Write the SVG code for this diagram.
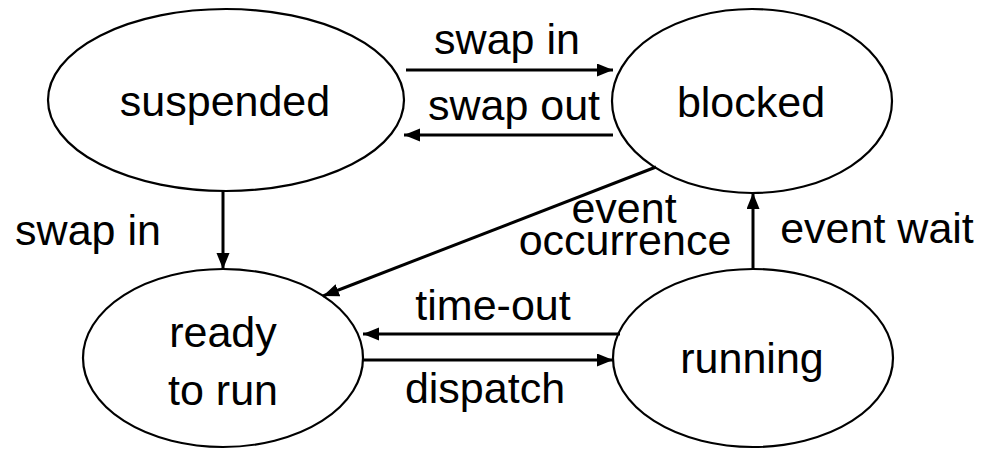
<svg xmlns="http://www.w3.org/2000/svg" width="988" height="449" viewBox="0 0 988 449">
<style>
.node{fill:#fff;stroke:#000;stroke-width:2.2}
text{font-family:"Liberation Sans",Arial,sans-serif;font-size:43px;fill:#000;text-anchor:middle}
.edge{stroke:#000;stroke-width:3;fill:none}
</style>
<defs>
<marker id="ah" markerUnits="userSpaceOnUse" markerWidth="17" markerHeight="14" refX="16" refY="6.5" orient="auto">
<path d="M0,0 L16,6.5 L0,13 z" fill="#000"/>
</marker>
</defs>
<rect width="988" height="449" fill="#fff"/>
<g id="suspended"><ellipse class="node" cx="226" cy="100" rx="178" ry="91"/><text x="225" y="116">suspended</text></g>
<g id="blocked"><ellipse class="node" cx="752" cy="101" rx="140" ry="92"/><text x="751" y="117">blocked</text></g>
<g id="ready"><ellipse class="node" cx="223" cy="358" rx="140" ry="89"/><text x="223" y="347">ready</text><text x="223" y="405">to run</text></g>
<g id="running"><ellipse class="node" cx="753" cy="358" rx="140" ry="89"/><text x="752" y="373">running</text></g>
<g id="connectors">
<line class="edge" x1="406" y1="70" x2="613" y2="70" marker-end="url(#ah)"/>
<line class="edge" x1="613" y1="135" x2="404" y2="135" marker-end="url(#ah)"/>
<line class="edge" x1="223" y1="191" x2="223" y2="269" marker-end="url(#ah)"/>
<line class="edge" x1="656" y1="167" x2="323" y2="296" marker-end="url(#ah)"/>
<line class="edge" x1="753" y1="269" x2="753" y2="193" marker-end="url(#ah)"/>
<line class="edge" x1="620" y1="334" x2="363" y2="334" marker-end="url(#ah)"/>
<line class="edge" x1="363" y1="360" x2="613" y2="360" marker-end="url(#ah)"/>
<text x="507" y="54">swap in</text>
<text x="514" y="120">swap out</text>
<text x="88" y="245">swap in</text>
<text x="624" y="223">event</text>
<text x="625" y="255">occurrence</text>
<text x="877" y="243">event wait</text>
<text x="493" y="320">time-out</text>
<text x="485" y="403">dispatch</text>
</g>
</svg>
